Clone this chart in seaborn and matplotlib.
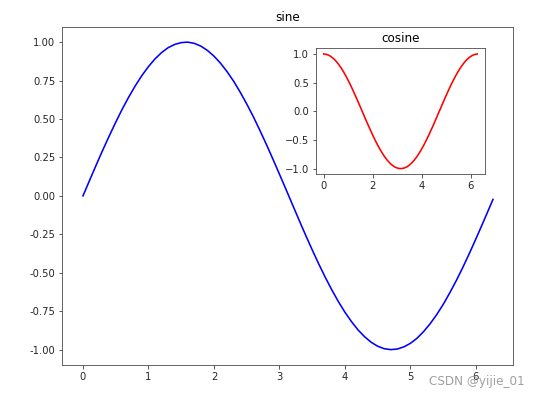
import matplotlib
matplotlib.use('Agg')
import matplotlib.pyplot as plt
import seaborn as sns
from matplotlib.ticker import FuncFormatter

# valores
x_vals = [0.0, 0.1, 0.2, 0.3, 0.4, 0.5, 0.6, 0.7, 0.8, 0.9,
          1.0, 1.1, 1.2, 1.3, 1.4, 1.5, 1.6, 1.7, 1.8, 1.9,
          2.0, 2.1, 2.2, 2.3, 2.4, 2.5, 2.6, 2.7, 2.8, 2.9,
          3.0, 3.1, 3.2, 3.3, 3.4, 3.5, 3.6, 3.7, 3.8, 3.9,
          4.0, 4.1, 4.2, 4.3, 4.4, 4.5, 4.6, 4.7, 4.8, 4.9,
          5.0, 5.1, 5.2, 5.3, 5.4, 5.5, 5.6, 5.7, 5.8, 5.9,
          6.0, 6.1, 6.2, 6.26]
seno = [0.000, 0.100, 0.199, 0.296, 0.389, 0.479, 0.565, 0.644, 0.717, 0.783,
        0.841, 0.891, 0.932, 0.964, 0.985, 0.997, 1.000, 0.992, 0.974, 0.946,
        0.909, 0.863, 0.808, 0.746, 0.675, 0.598, 0.516, 0.427, 0.335, 0.239,
        0.141, 0.042, -0.058, -0.158, -0.256, -0.351, -0.443, -0.530, -0.612, -0.688,
        -0.757, -0.818, -0.872, -0.916, -0.952, -0.978, -0.994, -1.000, -0.996, -0.982,
        -0.959, -0.926, -0.883, -0.832, -0.773, -0.706, -0.631, -0.551, -0.465, -0.374,
        -0.279, -0.182, -0.083, -0.023]
coseno = [1.000, 0.995, 0.980, 0.955, 0.921, 0.878, 0.825, 0.765, 0.697, 0.622,
          0.540, 0.454, 0.362, 0.267, 0.170, 0.071, -0.029, -0.129, -0.227, -0.323,
          -0.416, -0.505, -0.589, -0.666, -0.737, -0.801, -0.857, -0.904, -0.942, -0.971,
          -0.990, -0.999, -0.998, -0.987, -0.967, -0.936, -0.897, -0.848, -0.791, -0.726,
          -0.654, -0.575, -0.490, -0.401, -0.307, -0.211, -0.112, -0.012, 0.087, 0.187,
          0.284, 0.378, 0.469, 0.554, 0.635, 0.709, 0.776, 0.835, 0.886, 0.927,
          0.960, 0.983, 0.997, 1.000]

fig = plt.figure(figsize=(541/72, 397/72), dpi=72)

ax = fig.add_axes([0.1155, 0.0806, 0.8336, 0.852])
sns.lineplot(x=x_vals, y=seno, color='b', linewidth=1.6, ax=ax)
ax.set_title('sine')
ax.yaxis.set_major_formatter(FuncFormatter(lambda v, p: f'{v:.2f}'))

ax2 = fig.add_axes([0.584, 0.561, 0.3124, 0.3174])
sns.lineplot(x=x_vals, y=coseno, color='r', linewidth=1.6, ax=ax2)
ax2.set_title('cosine')

for a in (ax, ax2):
    for s in a.spines.values():
        s.set_edgecolor('#444444')
    a.tick_params(colors='#333333', labelcolor='#262626')

fig.text(0.970, 0.0385, 'CSDN @yijie_01', color='#a0a0a0', fontsize=12,
         ha='right', va='center')

fig.savefig('out.png', dpi=72)
